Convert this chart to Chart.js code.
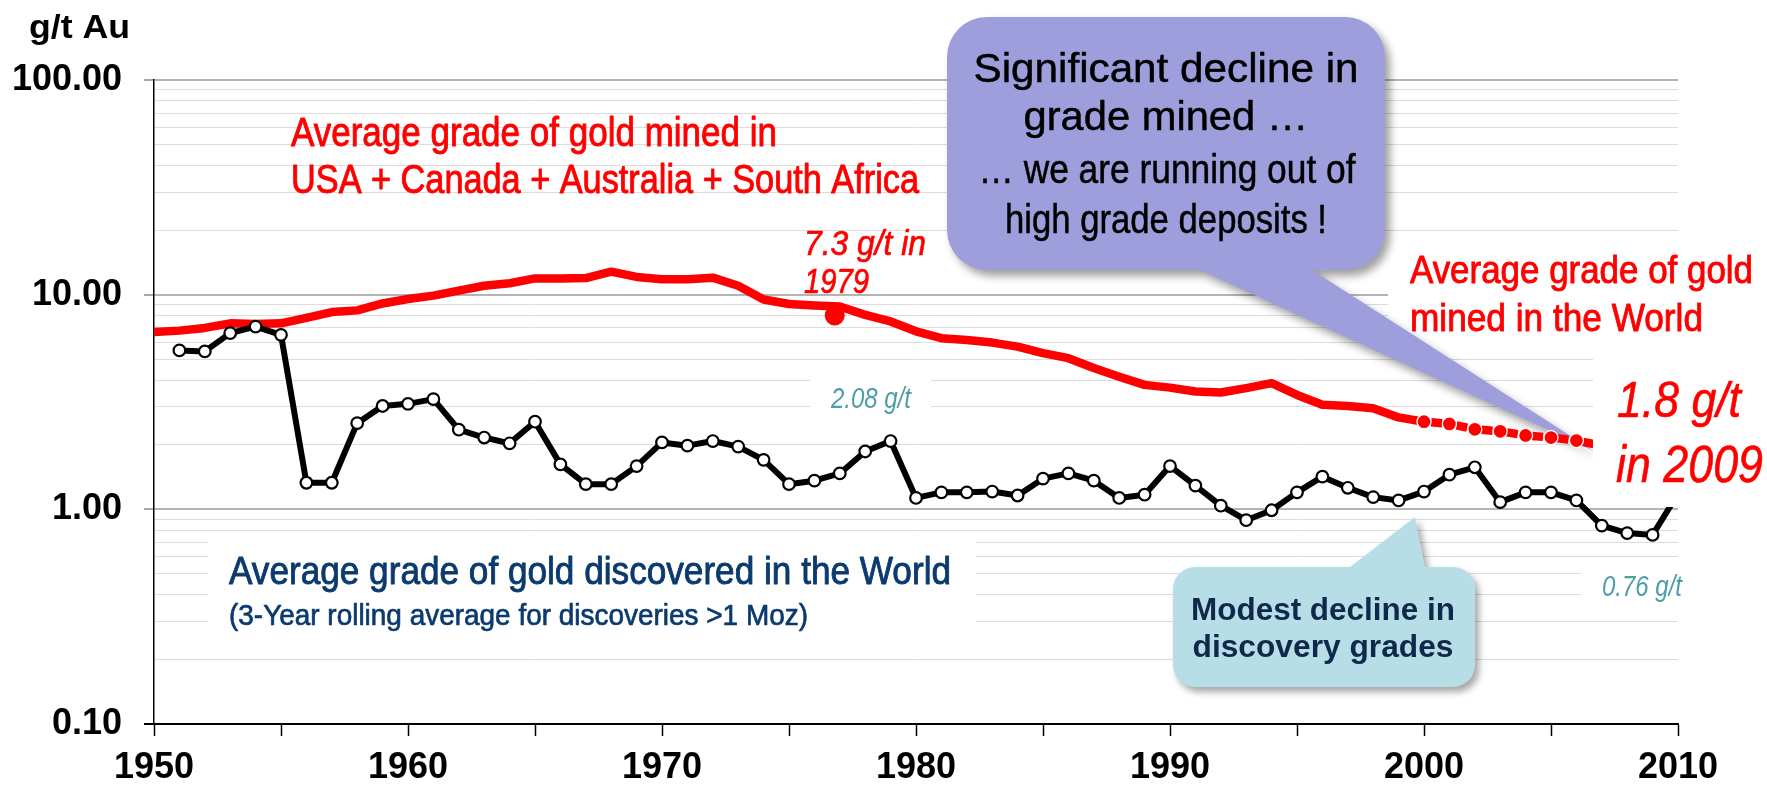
<!DOCTYPE html>
<html><head><meta charset="utf-8">
<script src="https://cdn.jsdelivr.net/npm/chart.js@4.4.1/dist/chart.umd.min.js"></script>
<style>html,body{margin:0;padding:0;background:#fff;}canvas{display:block;}</style>
</head><body>
<canvas id="c" width="1767" height="785"></canvas>
<script>
// ---------------- DATA ----------------
const minedYears = [1950,1951,1952,1953,1954,1955,1956,1957,1958,1959,1960,1961,1962,1963,1964,1965,1966,1967,1968,1969,1970,1971,1972,1973,1974,1975,1976,1977,1978,1979,1980,1981,1982,1983,1984,1985,1986,1987,1988,1989,1990,1991,1992,1993,1994,1995,1996,1997,1998,1999,2000,2001,2002,2003,2004,2005,2006,2007,2008,2009];
const minedGrade = [6.7,6.8,7.0,7.35,7.3,7.35,7.8,8.3,8.45,9.1,9.55,9.9,10.45,11.0,11.3,11.9,11.9,11.95,12.8,12.1,11.8,11.8,12.0,11.0,9.5,9.05,8.9,8.8,8.05,7.5,6.75,6.27,6.15,5.98,5.73,5.34,5.06,4.55,4.15,3.8,3.69,3.54,3.5,3.67,3.87,3.41,3.07,3.03,2.96,2.68,2.56,2.5,2.36,2.31,2.21,2.16,2.09,1.98,1.9,1.8];
const discYears = [1951,1952,1953,1954,1955,1956,1957,1958,1959,1960,1961,1962,1963,1964,1965,1966,1967,1968,1969,1970,1971,1972,1973,1974,1975,1976,1977,1978,1979,1980,1981,1982,1983,1984,1985,1986,1987,1988,1989,1990,1991,1992,1993,1994,1995,1996,1997,1998,1999,2000,2001,2002,2003,2004,2005,2006,2007,2008,2009,2010];
const discGrade = [5.5,5.44,6.62,7.1,6.5,1.33,1.33,2.52,3.03,3.1,3.26,2.35,2.16,2.03,2.56,1.62,1.31,1.31,1.59,2.05,1.98,2.08,1.96,1.7,1.31,1.36,1.47,1.86,2.08,1.13,1.2,1.2,1.21,1.16,1.39,1.47,1.36,1.13,1.17,1.59,1.29,1.04,0.89,0.99,1.2,1.42,1.26,1.14,1.1,1.21,1.45,1.57,1.08,1.2,1.2,1.1,0.84,0.775,0.76,1.18];
const highlightYear = [1976.8];
const highlightGrade = [8.0];
const projectedFrom = 2000;   // mined series shown dotted from this year

const xTickValues = [1950,1955,1960,1965,1970,1975,1980,1985,1990,1995,2000,2005,2010];
const xTickLabels = ['1950','','1960','','1970','','1980','','1990','','2000','','2010'];
const yMajorValues = [0.1,1,10,100];
const yTickLabels = ['0.10','1.00','10.00','100.00'];
const yMinorMultipliers = [1,2,3,4,5,6,7,8,9];

// ---------------- HELPERS ----------------
const FAM = '"Liberation Sans", Arial, Helvetica, sans-serif';
const NARROW = '"Liberation Sans Narrow", "Arial Narrow", "Liberation Sans", Arial, sans-serif';
const isMajor = v => yMajorValues.some(m => Math.abs(m - v) < 1e-9);

function txt(ctx, s, x, y, o) {
  ctx.save();
  ctx.font = o.font + ' ' + (o.narrow ? NARROW : FAM);
  ctx.fillStyle = o.color;
  ctx.textBaseline = 'alphabetic';
  ctx.textAlign = o.align || 'left';
  const w = ctx.measureText(s).width;
  const sx = o.width ? o.width / w : 1;
  ctx.translate(x, y);
  ctx.scale(sx, 1);
  ctx.fillText(s, 0, 0);
  if (o.stroke) {
    ctx.strokeStyle = o.color;
    ctx.lineWidth = o.stroke;
    ctx.lineJoin = 'round';
    ctx.strokeText(s, 0, 0);
  }
  ctx.restore();
}

function calloutPath(ctx, x0, y0, x1, y1, r, ptr, side) {
  ctx.beginPath();
  ctx.moveTo(x0 + r, y0);
  if (side === 'top') { ctx.lineTo(ptr[0], y0); ctx.lineTo(ptr[1], ptr[2]); ctx.lineTo(ptr[3], y0); }
  ctx.lineTo(x1 - r, y0);
  ctx.arcTo(x1, y0, x1, y0 + r, r);
  ctx.lineTo(x1, y1 - r);
  ctx.arcTo(x1, y1, x1 - r, y1, r);
  if (side === 'bottom') { ctx.lineTo(ptr[0], y1); ctx.lineTo(ptr[1], ptr[2]); ctx.lineTo(ptr[3], y1); }
  ctx.lineTo(x0 + r, y1);
  ctx.arcTo(x0, y1, x0, y1 - r, r);
  ctx.lineTo(x0, y0 + r);
  ctx.arcTo(x0, y0, x0 + r, y0, r);
  ctx.closePath();
}

const RED = '#ff0000', TEAL = '#4e9ea8', NAVY = '#0b3a6e', DARK = '#10284a';

const annotations = {
  id: 'annotations',
  beforeDatasetsDraw(chart) {
    const ctx = chart.ctx;
    ctx.save();
    ctx.fillStyle = '#ffffff';
    ctx.fillRect(208, 537, 768, 110);     // discovered-text background
    ctx.fillRect(810, 370, 121, 54);      // 2.08 g/t
    ctx.fillRect(1581, 557, 121, 55);     // 0.76 g/t
    ctx.fillRect(1388, 248, 379, 105);    // right red text
    // purple callout
    ctx.shadowColor = 'rgba(0,0,0,0.38)'; ctx.shadowBlur = 9; ctx.shadowOffsetX = 5; ctx.shadowOffsetY = 6;
    ctx.fillStyle = '#9e9edc';
    calloutPath(ctx, 947, 17, 1385, 270, 40, [1312, 1594, 451, 1200], 'bottom');
    ctx.fill();
    // blue callout
    ctx.shadowColor = 'rgba(0,0,0,0.35)'; ctx.shadowBlur = 7; ctx.shadowOffsetX = 4; ctx.shadowOffsetY = 5;
    ctx.fillStyle = '#b7dde6';
    calloutPath(ctx, 1173, 567, 1475, 687, 22, [1350, 1415, 517, 1425], 'top');
    ctx.fill();
    ctx.restore();
  },
  afterDatasetsDraw(chart) {
    const ctx = chart.ctx;
    ctx.save();
    ctx.fillStyle = '#ffffff';
    ctx.fillRect(1593, 357, 174, 150);    // 1.8 g/t box
    ctx.restore();

    txt(ctx, 'g/t Au', 29, 38, {font: 'bold 33px', color: '#000', width: 101});

    txt(ctx, 'Average grade of gold mined in', 291, 146, {font: '40px', narrow: true, color: RED, width: 486, stroke: 0.9});
    txt(ctx, 'USA + Canada + Australia + South Africa', 291, 193, {font: '40px', narrow: true, color: RED, width: 628, stroke: 0.9});
    txt(ctx, '7.3 g/t in', 804, 255, {font: 'italic 35px', narrow: true, color: RED, width: 122, stroke: 0.7});
    txt(ctx, '1979', 804, 293, {font: 'italic 35px', narrow: true, color: RED, width: 65, stroke: 0.7});

    txt(ctx, 'Significant decline in', 1166, 82, {font: '41px', color: '#000', align: 'center', width: 385, stroke: 0.5});
    txt(ctx, 'grade mined \u2026', 1166, 130, {font: '41px', color: '#000', align: 'center', width: 285, stroke: 0.5});
    txt(ctx, '\u2026 we are running out of', 1167, 183, {font: '40px', narrow: true, color: '#000', align: 'center', width: 377, stroke: 0.5});
    txt(ctx, 'high grade deposits !', 1166, 233, {font: '40px', narrow: true, color: '#000', align: 'center', width: 322, stroke: 0.5});

    txt(ctx, 'Average grade of gold', 1410, 283, {font: '39px', narrow: true, color: RED, width: 343, stroke: 0.9});
    txt(ctx, 'mined in the World', 1410, 331, {font: '39px', narrow: true, color: RED, width: 293, stroke: 0.9});

    txt(ctx, '1.8 g/t', 1617, 417, {font: 'italic 50px', narrow: true, color: RED, width: 124, stroke: 0.6});
    txt(ctx, 'in 2009', 1616, 482, {font: 'italic 52px', narrow: true, color: RED, width: 147, stroke: 0.6});

    txt(ctx, '2.08 g/t', 831, 408, {font: 'italic 29px', narrow: true, color: TEAL, width: 80});
    txt(ctx, '0.76 g/t', 1602, 596, {font: 'italic 29px', narrow: true, color: TEAL, width: 80});

    txt(ctx, 'Average grade of gold discovered in the World', 229, 584, {font: '39px', narrow: true, color: NAVY, width: 722, stroke: 0.9});
    txt(ctx, '(3-Year rolling average for discoveries >1 Moz)', 229, 625, {font: '30px', narrow: true, color: NAVY, width: 579, stroke: 0.7});

    txt(ctx, 'Modest decline in', 1323, 620, {font: 'bold 31px', color: DARK, align: 'center', width: 264});
    txt(ctx, 'discovery grades', 1323, 657, {font: 'bold 31px', color: DARK, align: 'center', width: 261});
  }
};

// ---------------- CHART ----------------
const minedData = minedYears.map((x, i) => ({x, y: minedGrade[i]}));
const discData = discYears.map((x, i) => ({x, y: discGrade[i]}));
const highlightData = highlightYear.map((x, i) => ({x, y: highlightGrade[i]}));

new Chart(document.getElementById('c'), {
  type: 'line',
  data: {
    datasets: [
      {
        label: 'highlight', data: highlightData, showLine: false,
        pointRadius: 10, pointBackgroundColor: RED, pointBorderWidth: 0
      },
      {
        label: 'Average grade of gold discovered in the World', data: discData,
        borderColor: '#000', borderWidth: 6, tension: 0, borderJoinStyle: 'round',
        pointRadius: 5.8, pointBorderWidth: 2.2, pointBackgroundColor: '#fff', pointBorderColor: '#000'
      },
      {
        label: 'Average grade of gold mined', data: minedData,
        borderColor: RED, borderWidth: 8.5, tension: 0, borderJoinStyle: 'round', borderCapStyle: 'butt',
        pointRadius: c => (c.raw && c.raw.x >= projectedFrom) ? 7 : 0,
        pointBackgroundColor: RED, pointBorderColor: '#fff', pointBorderWidth: 1.3,
        segment: {
          borderDash: c => c.p0.parsed.x >= projectedFrom ? [11, 14.5] : undefined,
          borderDashOffset: c => c.p0.parsed.x >= projectedFrom ? 18.3 : 0
        }
      }
    ]
  },
  options: {
    responsive: false, animation: false, devicePixelRatio: 1, events: [],
    layout: {padding: {left: 0, right: 89, top: 80, bottom: 0}},
    plugins: {legend: {display: false}, tooltip: {enabled: false}},
    scales: {
      x: {
        type: 'linear', min: 1950, max: 2010,
        afterBuildTicks: s => { s.ticks = xTickValues.map(v => ({value: v})); },
        afterFit: s => { s.height = 61; },
        ticks: {
          autoSkip: false, maxRotation: 0, padding: 10, color: '#000',
          font: {family: FAM, size: 36, weight: 'bold'},
          callback: v => { const i = xTickValues.indexOf(v); return i >= 0 ? xTickLabels[i] : ''; }
        },
        grid: {drawOnChartArea: false, drawTicks: true, tickLength: 12, tickColor: '#000', tickWidth: 1.5},
        border: {color: '#000', width: 2}
      },
      y: {
        type: 'logarithmic', min: 0.1, max: 100,
        afterBuildTicks: s => {
          const t = [];
          yMajorValues.slice(0, 3).forEach(d => yMinorMultipliers.forEach(m => t.push({value: +(m * d).toPrecision(6)})));
          t.push({value: 100});
          s.ticks = t;
        },
        afterFit: s => { s.width = 154; },
        ticks: {
          autoSkip: false, padding: 22, color: '#000',
          font: {family: FAM, size: 36, weight: 'bold'},
          callback: v => { const i = yMajorValues.findIndex(m => Math.abs(m - v) < 1e-9); return i >= 0 ? yTickLabels[i] : ''; }
        },
        grid: {
          drawTicks: true, tickLength: 10,
          color: c => c.tick && Math.abs(c.tick.value - 0.1) < 1e-9 ? '#000' : (c.tick && isMajor(c.tick.value) ? '#b4b4b4' : '#dcdcdc'),
          lineWidth: c => c.tick && isMajor(c.tick.value) ? 2 : 1,
          tickColor: c => c.tick && Math.abs(c.tick.value - 0.1) < 1e-9 ? '#000' : (c.tick && isMajor(c.tick.value) ? '#a8a8a8' : 'rgba(0,0,0,0)'),
          tickWidth: 2
        },
        border: {color: '#000', width: 1.5}
      }
    }
  },
  plugins: [annotations]
});
</script>
</body></html>
